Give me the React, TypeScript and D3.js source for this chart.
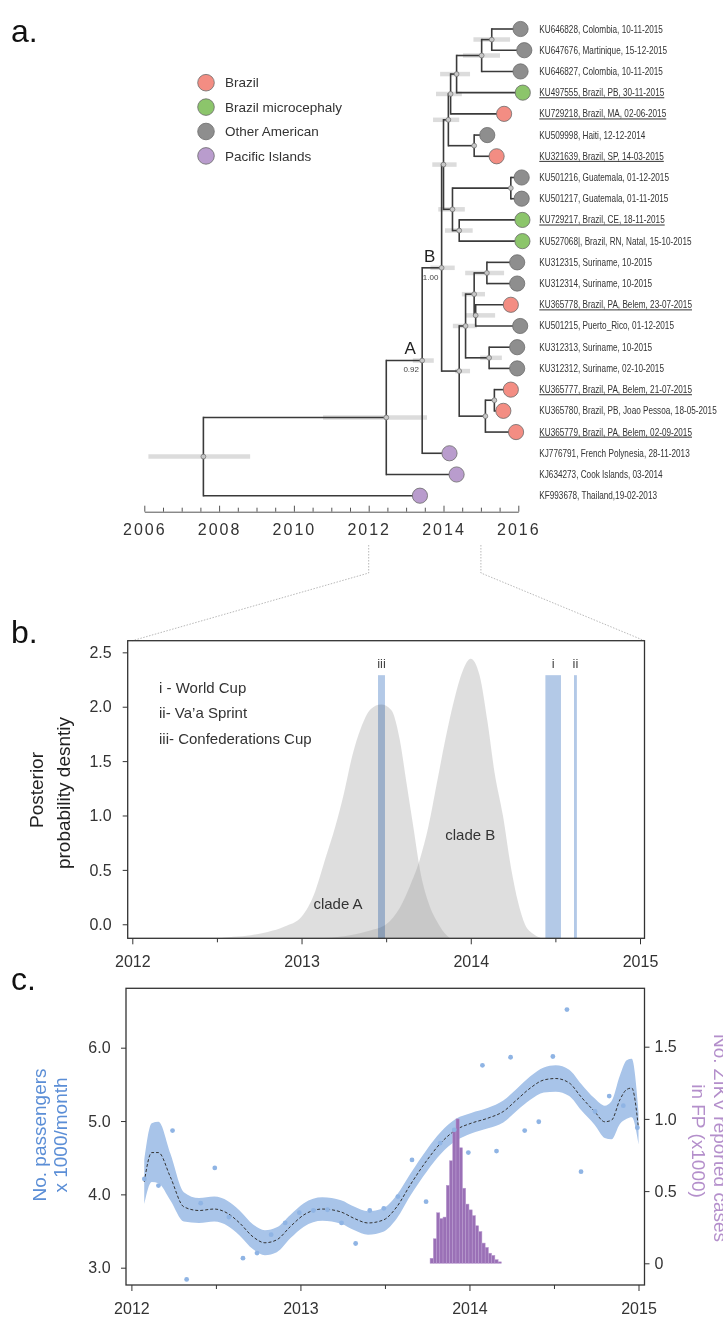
import { useEffect, useRef } from "react";
import * as d3 from "d3";

const W = 723;
const H = 1317;
const SANS = "'Liberation Sans', Arial, Helvetica, sans-serif";

// ---------- panel a: time-scaled tree ----------
const GROUPS = ["Brazil", "Brazil microcephaly", "Other American", "Pacific Islands"];
const GROUP_COLORS = ["#f38d83", "#8cc56b", "#8e8e8e", "#b99ccd"];

// label, tip time (decimal year), group index, underlined
const TIPS: [string, number, number, boolean][] = [
  ["KU646828, Colombia, 10-11-2015", 2016.06, 2, false],
  ["KU647676, Martinique, 15-12-2015", 2016.16, 2, false],
  ["KU646827, Colombia, 10-11-2015", 2016.06, 2, false],
  ["KU497555, Brazil, PB, 30-11-2015", 2016.12, 1, true],
  ["KU729218, Brazil, MA, 02-06-2015", 2015.62, 0, true],
  ["KU509998, Haiti, 12-12-2014", 2015.17, 2, false],
  ["KU321639, Brazil, SP, 14-03-2015", 2015.42, 0, true],
  ["KU501216, Guatemala, 01-12-2015", 2016.09, 2, false],
  ["KU501217, Guatemala, 01-11-2015", 2016.09, 2, false],
  ["KU729217, Brazil, CE, 18-11-2015", 2016.11, 1, true],
  ["KU527068|, Brazil, RN, Natal, 15-10-2015", 2016.11, 1, false],
  ["KU312315, Suriname, 10-2015", 2015.97, 2, false],
  ["KU312314, Suriname, 10-2015", 2015.97, 2, false],
  ["KU365778, Brazil, PA, Belem, 23-07-2015", 2015.8, 0, true],
  ["KU501215, Puerto_Rico, 01-12-2015", 2016.05, 2, false],
  ["KU312313, Suriname, 10-2015", 2015.97, 2, false],
  ["KU312312, Suriname, 02-10-2015", 2015.97, 2, false],
  ["KU365777, Brazil, PA, Belem, 21-07-2015", 2015.8, 0, true],
  ["KU365780, Brazil, PB, Joao Pessoa, 18-05-2015", 2015.6, 0, false],
  ["KU365779, Brazil, PA, Belem, 02-09-2015", 2015.94, 0, true],
  ["KJ776791, French Polynesia, 28-11-2013", 2014.16, 3, false],
  ["KJ634273, Cook Islands, 03-2014", 2014.35, 3, false],
  ["KF993678, Thailand,19-02-2013", 2013.37, 3, false],
];

// name, children, node time, 95% HPD
const NODES: [string, string[], number, [number, number] | null][] = [
  ["n01", ["t0", "t1"], 2015.29, [2014.8, 2015.78]],
  ["n012", ["n01", "t2"], 2015.02, [2014.52, 2015.51]],
  ["n0123", ["n012", "t3"], 2014.35, [2013.91, 2014.71]],
  ["n01234", ["n0123", "t4"], 2014.19, [2013.8, 2014.49]],
  ["n56", ["t5", "t6"], 2014.82, null],
  ["n0_6", ["n01234", "n56"], 2014.13, [2013.72, 2014.42]],
  ["n78", ["t7", "t8"], 2015.8, null],
  ["n910", ["t9", "t10"], 2014.42, [2014.04, 2014.78]],
  ["n7_10", ["n78", "n910"], 2014.24, [2013.86, 2014.57]],
  ["n0_10", ["n0_6", "n7_10"], 2014.0, [2013.7, 2014.35]],
  ["n1112", ["t11", "t12"], 2015.16, [2014.58, 2015.62]],
  ["n1314", ["t13", "t14"], 2014.86, [2014.58, 2015.38]],
  ["nX", ["n1112", "n1314"], 2014.82, [2014.49, 2015.11]],
  ["n1516", ["t15", "t16"], 2015.22, [2014.98, 2015.56]],
  ["nZ", ["nX", "n1516"], 2014.59, [2014.25, 2014.89]],
  ["n1718", ["t17", "t18"], 2015.36, null],
  ["nW", ["n1718", "t19"], 2015.12, null],
  ["nV", ["nZ", "nW"], 2014.42, [2014.31, 2014.71]],
  ["nB", ["n0_10", "nV"], 2013.95, [2013.65, 2014.3]],
  ["nA", ["nB", "t20"], 2013.43, [2013.18, 2013.74]],
  ["nC", ["nA", "t21"], 2012.47, [2010.78, 2013.56]],
  ["root", ["nC", "t22"], 2007.58, [2006.11, 2008.83]],
];

// node, clade name, posterior support
const CLADE_TAGS: [string, string, string][] = [
  ["nA", "A", "0.92"],
  ["nB", "B", "1.00"],
];

const TREE_YEARS = [2006, 2016];

// ---------- panel b: tMRCA densities ----------
const CLADE_A: [number, number][] = [
  [2012.5, -0.13], [2012.6, -0.115], [2012.7, -0.1], [2012.8, -0.07], [2012.9, -0.02],
  [2013.0, 0.07], [2013.08, 0.3], [2013.14, 0.6], [2013.2, 0.9], [2013.25, 1.2],
  [2013.3, 1.55], [2013.35, 1.8], [2013.41, 1.98], [2013.47, 2.02], [2013.53, 1.97],
  [2013.58, 1.7], [2013.62, 1.3], [2013.66, 0.9], [2013.7, 0.5], [2013.75, 0.2],
  [2013.81, 0.0], [2013.85, -0.09], [2013.88, -0.13],
];
const CLADE_B: [number, number][] = [
  [2013.1, -0.13], [2013.25, -0.11], [2013.4, -0.06], [2013.5, 0.0], [2013.58, 0.15],
  [2013.64, 0.35], [2013.7, 0.6], [2013.75, 0.9], [2013.8, 1.3], [2013.85, 1.7],
  [2013.9, 2.05], [2013.95, 2.32], [2014.0, 2.44], [2014.05, 2.3], [2014.1, 1.85],
  [2014.14, 1.4], [2014.19, 1.0], [2014.24, 0.5], [2014.28, 0.2], [2014.32, 0.0],
  [2014.37, -0.09], [2014.42, -0.13],
];
const EVENTS: [string, number, number][] = [
  ["i", 2014.441, 2014.533],
  ["ii", 2014.61, 2014.627],
  ["iii", 2013.452, 2013.493],
];
const EVENT_TOP = 2.29;
const EVENT_LEGEND = ["i - World Cup", "ii- Va\u2019a Sprint", "iii- Confederations Cup"];
const DENSITY_TICKS = [0, 0.5, 1.0, 1.5, 2.0, 2.5];

// ---------- panel c: passengers & ZIKV cases ----------
// monthly passengers (x1000), Jan 2012 .. Dec 2014
const PASSENGERS = [
  4.21, 4.12, 4.87, 2.84, 3.88, 4.36, 3.69, 3.13, 3.2, 3.45, 3.61, 3.75,
  3.78, 3.79, 3.61, 3.33, 3.78, 3.81, 3.97, 4.47, 3.9, 4.7, 4.88, 4.57,
  5.76, 4.59, 5.87, 4.87, 4.99, 5.88, 6.52, 4.31, 5.13, 5.34, 5.21, 4.91,
];
// smoother: time, mean, half width of band
const SMOOTH: [number, number, number][] = [
  [2012.076, 4.17, 0.3], [2012.12, 4.57, 0.4], [2012.16, 4.57, 0.42], [2012.23, 4.24, 0.32],
  [2012.31, 3.83, 0.2], [2012.4, 3.78, 0.17], [2012.49, 3.8, 0.17], [2012.57, 3.74, 0.17],
  [2012.64, 3.61, 0.17], [2012.72, 3.42, 0.17], [2012.79, 3.34, 0.17], [2012.86, 3.38, 0.17],
  [2012.94, 3.56, 0.16], [2013.02, 3.72, 0.16], [2013.13, 3.8, 0.16], [2013.24, 3.76, 0.16],
  [2013.32, 3.67, 0.16], [2013.4, 3.61, 0.16], [2013.49, 3.65, 0.16], [2013.57, 3.83, 0.16],
  [2013.65, 4.13, 0.15], [2013.75, 4.47, 0.15], [2013.83, 4.7, 0.15], [2013.92, 4.88, 0.15],
  [2014.01, 4.97, 0.14], [2014.11, 5.04, 0.14], [2014.2, 5.13, 0.15], [2014.28, 5.29, 0.15],
  [2014.36, 5.45, 0.16], [2014.44, 5.56, 0.17], [2014.51, 5.58, 0.18], [2014.59, 5.52, 0.18],
  [2014.66, 5.33, 0.18], [2014.74, 5.13, 0.18], [2014.8, 4.99, 0.22], [2014.84, 5.01, 0.26],
  [2014.89, 5.29, 0.33], [2014.93, 5.43, 0.4], [2014.96, 5.45, 0.4], [2015.0, 4.9, 0.22],
];
// weekly reported ZIKV cases in French Polynesia (x1000), from week of 7 Oct 2013
const CASES_START = 2013.767;
const CASES = [
  0.035, 0.17, 0.35, 0.31, 0.32, 0.54, 0.71, 0.93, 1.0, 0.8, 0.52,
  0.41, 0.37, 0.33, 0.26, 0.22, 0.14, 0.11, 0.07, 0.055, 0.025, 0.01,
];
const WEEK = 7 / 365.25;
const PASSENGER_TICKS = [3, 4, 5, 6];
const CASE_TICKS = [0, 0.5, 1.0, 1.5];
const ZOOM_YEARS = [2012, 2015];

// ---------- scales ----------
const xTree = d3.scaleLinear().domain(TREE_YEARS).range([144.3, 518.3]);
const yTree = d3.scaleLinear().domain([0, TIPS.length - 1]).range([29, 495.7]);

const B = { left: 127.7, right: 644.5, top: 640.7, bottom: 938.3 };
const xB = d3.scaleLinear().domain([2012, 2015]).range([132.3, 640]);
const yB = d3.scaleLinear().domain([-0.129, 2.607]).range([B.bottom, B.top]);

const C = { left: 126, right: 644.5, top: 988.3, bottom: 1285 };
const xC = d3.scaleLinear().domain([2012, 2015]).range([131.4, 638.5]);
const yC = d3.scaleLinear().domain([3, 6]).range([1267.7, 1047.7]);
const yCases = d3.scaleLinear().domain([0, 1.5]).range([1263.3, 1046.7]);

const monthEnd = (i: number) => 2012 + (i + 0.92) / 12;

// tree layout
type Pos = { x: number; y: number };
const pos = new Map<string, Pos>();
TIPS.forEach((t, i) => pos.set(`t${i}`, { x: xTree(t[1]), y: yTree(i) }));
NODES.forEach(([name, kids, time]) => {
  const ys = kids.map((k) => pos.get(k)!.y);
  pos.set(name, { x: xTree(time), y: (d3.min(ys)! + d3.max(ys)!) / 2 });
});

function Axis({ axis, transform, style }: { axis: any; transform: string; style: (g: any) => void }) {
  const ref = useRef<SVGGElement>(null);
  useEffect(() => {
    const g = d3.select(ref.current!);
    g.selectAll("*").remove();
    g.call(axis);
    g.attr("font-family", SANS);
    g.selectAll(".tick line").attr("stroke", "#333");
    g.selectAll(".tick text").attr("fill", "#333");
    style(g);
  }, [axis, style]);
  return <g ref={ref} transform={transform} />;
}

const treeAxis = d3
  .axisBottom(xTree)
  .tickValues(d3.range(2006, 2016.001, 0.5))
  .tickSizeInner(-4)
  .tickSizeOuter(0)
  .tickPadding(11.6)
  .tickFormat((d: any) => (d % 2 === 0 ? String(d) : ""));
const styleTreeAxis = (g: any) => {
  g.select(".domain").attr("stroke", "#555");
  g.selectAll(".tick line").attr("stroke", "#555").attr("y2", (d: number) => (d % 2 === 0 ? -6 : -4));
  g.selectAll(".tick text").attr("font-size", 16).attr("letter-spacing", 2).attr("fill", "#333");
};

const yearAxis = (x: any) =>
  d3
    .axisBottom(x)
    .tickValues(d3.range(2012, 2015.001, 0.5))
    .tickSizeInner(6)
    .tickSizeOuter(0)
    .tickPadding(11.7)
    .tickFormat((d: any) => (d % 1 === 0 ? String(d) : ""));
const styleYearAxis = (g: any) => {
  g.select(".domain").remove();
  g.selectAll(".tick line").attr("y2", (d: number) => (d % 1 === 0 ? 6 : 4));
  g.selectAll(".tick text").attr("font-size", 16);
};
const styleValueAxis = (g: any) => {
  g.select(".domain").remove();
  g.selectAll(".tick text").attr("font-size", 16).attr("fill", "#333");
};

const axB = yearAxis(xB);
const axC = yearAxis(xC);
const axDensity = d3.axisLeft(yB).tickValues(DENSITY_TICKS).tickSize(5).tickPadding(11).tickFormat(d3.format(".1f") as any);
const axPass = d3.axisLeft(yC).tickValues(PASSENGER_TICKS).tickSize(5).tickPadding(10.4).tickFormat(d3.format(".1f") as any);
const axCases = d3
  .axisRight(yCases)
  .tickValues(CASE_TICKS)
  .tickSize(5)
  .tickPadding(5)
  .tickFormat((d: any) => (d === 0 ? "0" : d3.format(".1f")(d)));

function RotLabel({ x, y, angle, text, fill, size }: { x: number; y: number; angle: number; text: string; fill: string; size: number }) {
  return (
    <text transform={`translate(${x},${y}) rotate(${angle})`} textAnchor="middle" dy="0.35em" fontSize={size} fill={fill}>
      {text}
    </text>
  );
}

export default function App() {
  const densityArea = d3
    .area<[number, number]>()
    .x((d) => xB(d[0]))
    .y0(B.bottom)
    .y1((d) => yB(d[1]))
    .curve(d3.curveMonotoneX);

  const band = d3
    .area<[number, number, number]>()
    .x((d) => xC(d[0]))
    .y0((d) => yC(d[1] - d[2]))
    .y1((d) => yC(d[1] + d[2]))
    .curve(d3.curveMonotoneX);
  const meanLine = d3
    .line<[number, number, number]>()
    .x((d) => xC(d[0]))
    .y((d) => yC(d[1]))
    .curve(d3.curveMonotoneX);

  const barW = xC(CASES_START + WEEK) - xC(CASES_START);

  const zl = xTree(ZOOM_YEARS[0]);
  const zr = xTree(ZOOM_YEARS[1]);

  return (
    <div style={{ position: "absolute", left: 0, top: 0 }}>
      <svg width={W} height={H} viewBox={`0 0 ${W} ${H}`} fontFamily={SANS} style={{ display: "block", background: "#fff" }}>
        {/* ---------------- a. ---------------- */}
        <text x={11} y={42} fontSize={32} fill="#111">a.</text>

        {GROUPS.map((g, i) => (
          <g key={g} transform={`translate(206,${82.7 + i * 24.4})`}>
            <circle r={8.3} fill={GROUP_COLORS[i]} stroke="#6b6b6b" strokeWidth={0.8} />
            <text x={19} dy="0.35em" fontSize={13.5} fill="#333">{g}</text>
          </g>
        ))}

        {NODES.filter((n) => n[3]).map(([name, , , hpd]) => (
          <line key={`h-${name}`} x1={xTree(hpd![0])} x2={xTree(hpd![1])} y1={pos.get(name)!.y} y2={pos.get(name)!.y}
            stroke="#dcdcdc" strokeWidth={4.5} />
        ))}

        {NODES.map(([name, kids]) => {
          const p = pos.get(name)!;
          const ys = kids.map((k) => pos.get(k)!.y);
          return (
            <g key={`b-${name}`} stroke="#3a3a3a" strokeWidth={1.6} fill="none">
              <line x1={p.x} x2={p.x} y1={d3.min(ys)! - 0.8} y2={d3.max(ys)! + 0.8} />
              {kids.map((k) => (
                <line key={k} x1={p.x} x2={pos.get(k)!.x} y1={pos.get(k)!.y} y2={pos.get(k)!.y} />
              ))}
            </g>
          );
        })}

        {NODES.map(([name]) => (
          <circle key={`m-${name}`} cx={pos.get(name)!.x} cy={pos.get(name)!.y} r={2.4} fill="#c8c8c8" stroke="#777" strokeWidth={0.8} />
        ))}

        {TIPS.map((t, i) => {
          const p = pos.get(`t${i}`)!;
          return (
            <g key={t[0]}>
              <circle cx={p.x} cy={p.y} r={7.6} fill={GROUP_COLORS[t[2]]} stroke="#6b6b6b" strokeWidth={0.8} />
              <text transform={`translate(539.3,${p.y}) scale(0.82,1)`} dy="0.35em" fontSize={10} fill="#333"
                style={{ textDecoration: t[3] ? "underline" : "none" }}>
                {t[0]}
              </text>
            </g>
          );
        })}

        {CLADE_TAGS.map(([node, name, support]) => {
          const p = pos.get(node)!;
          return (
            <g key={name}>
              <text x={p.x - 12} y={p.y - 12} dy="0.35em" textAnchor="middle" fontSize={17} fill="#222">{name}</text>
              <text x={p.x - 11} y={p.y + 9} dy="0.35em" textAnchor="middle" fontSize={8} fill="#444">{support}</text>
            </g>
          );
        })}

        <Axis axis={treeAxis} transform="translate(0,511.7)" style={styleTreeAxis} />

        {/* zoom connectors */}
        <path d={`M${zl},545V573L${xB(ZOOM_YEARS[0])},${B.top}`} fill="none" stroke="#b0b0b0" strokeWidth={0.9} strokeDasharray="1.5 1.5" />
        <path d={`M${zr},545V573L${B.right},${B.top}`} fill="none" stroke="#b0b0b0" strokeWidth={0.9} strokeDasharray="1.5 1.5" />

        {/* ---------------- b. ---------------- */}
        <text x={11} y={643} fontSize={32} fill="#111">b.</text>
        <path d={densityArea(CLADE_A)!} fill="#a0a0a0" fillOpacity={0.35} />
        <path d={densityArea(CLADE_B)!} fill="#a0a0a0" fillOpacity={0.35} />
        {EVENTS.map(([label, s, e]) => (
          <g key={label}>
            <rect x={xB(s)} width={xB(e) - xB(s)} y={yB(EVENT_TOP)} height={B.bottom - yB(EVENT_TOP)}
              fill="#b3c9e7" style={{ mixBlendMode: "multiply" }} />
            <text x={(xB(s) + xB(e)) / 2} y={yB(EVENT_TOP) - 12} dy="0.35em" textAnchor="middle" fontSize={13} fill="#444">{label}</text>
          </g>
        ))}
        {EVENT_LEGEND.map((t, i) => (
          <text key={t} x={159} y={687.7 + i * 25.3} dy="0.35em" fontSize={15} fill="#333">{t}</text>
        ))}
        <text x={338} y={903.3} dy="0.35em" textAnchor="middle" fontSize={15} fill="#333">clade A</text>
        <text x={470.3} y={834.3} dy="0.35em" textAnchor="middle" fontSize={15} fill="#333">clade B</text>
        <rect x={B.left} y={B.top} width={B.right - B.left} height={B.bottom - B.top} fill="none" stroke="#333" strokeWidth={1.3} />
        <Axis axis={axB} transform={`translate(0,${B.bottom})`} style={styleYearAxis} />
        <Axis axis={axDensity} transform={`translate(${B.left},0)`} style={styleValueAxis} />
        <RotLabel x={36.7} y={790} angle={-90} text="Posterior" fill="#222" size={19} />
        <RotLabel x={63.3} y={793} angle={-90} text="probability desntiy" fill="#222" size={19} />

        {/* ---------------- c. ---------------- */}
        <text x={11} y={990} fontSize={32} fill="#111">c.</text>
        <path d={band(SMOOTH)!} fill="#a8c4e9" />
        <path d={meanLine(SMOOTH)!} fill="none" stroke="#333" strokeWidth={1} strokeDasharray="3 2" />
        {CASES.map((v, i) => (
          <rect key={i} x={xC(CASES_START + i * WEEK)} width={barW} y={yCases(v)} height={yCases(0) - yCases(v)}
            fill="#9a70b6" stroke="#b99bd0" strokeWidth={0.5} />
        ))}
        {PASSENGERS.map((v, i) => (
          <circle key={i} cx={xC(monthEnd(i))} cy={yC(v)} r={2.4} fill="#8fb4e4" />
        ))}
        <rect x={C.left} y={C.top} width={C.right - C.left} height={C.bottom - C.top} fill="none" stroke="#333" strokeWidth={1.3} />
        <Axis axis={axC} transform={`translate(0,${C.bottom})`} style={styleYearAxis} />
        <Axis axis={axPass} transform={`translate(${C.left},0)`} style={styleValueAxis} />
        <Axis axis={axCases} transform={`translate(${C.right},0)`} style={styleValueAxis} />
        <RotLabel x={39.2} y={1135} angle={-90} text="No. passengers" fill="#5b8ed6" size={19} />
        <RotLabel x={60} y={1135} angle={-90} text="x 1000/month" fill="#5b8ed6" size={19} />
        <RotLabel x={721} y={1138} angle={90} text="No. ZIKV reported cases" fill="#b48fcb" size={19} />
        <RotLabel x={699} y={1141} angle={90} text="in FP (x1000)" fill="#b48fcb" size={19} />
      </svg>
    </div>
  );
}
